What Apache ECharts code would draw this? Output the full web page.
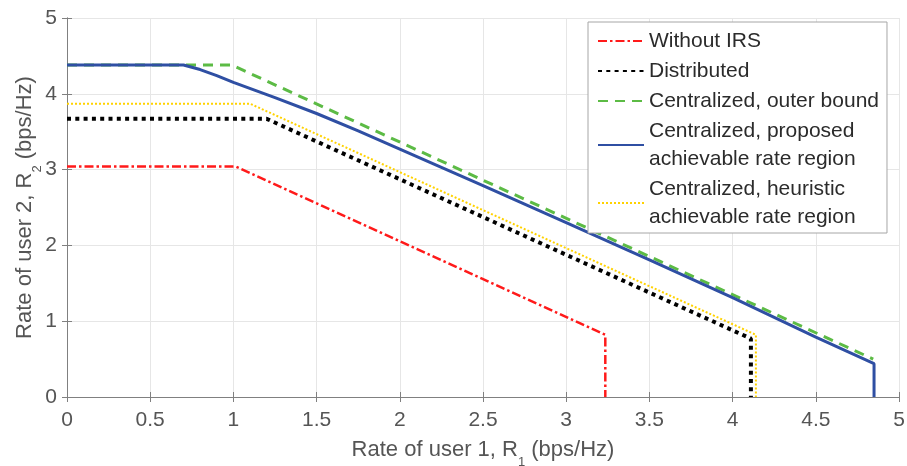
<!DOCTYPE html>
<html>
<head>
<meta charset="utf-8">
<script src="https://cdn.jsdelivr.net/npm/echarts@6/dist/echarts.min.js"></script>
<style>
  html, body { margin: 0; padding: 0; background: #fff; }
  #chart { width: 907px; height: 466px; }
</style>
</head>
<body>
<div id="chart"></div>
<script>
// Two-user rate regions (bps/Hz)
const noIrsR1 = [0, 1.015, 3.235, 3.235];
const noIrsR2 = [3.04, 3.04, 0.82, 0];

const distR1 = [0, 1.20, 4.11, 4.11];
const distR2 = [3.67, 3.67, 0.77, 0];

const outerR1 = [0, 0.99, 4.845];
const outerR2 = [4.38, 4.38, 0.50];

const propR1 = [0, 0.70, 0.80, 0.90, 1.0, 1.25, 1.5, 1.75, 2.0, 2.5, 3.0, 3.5, 4.0, 4.5, 4.85, 4.85];
const propR2 = [4.38, 4.38, 4.32, 4.24, 4.15, 3.95, 3.74, 3.51, 3.27, 2.79, 2.30, 1.81, 1.31, 0.79, 0.44, 0];

const heurR1 = [0, 1.10, 4.14, 4.14];
const heurR2 = [3.87, 3.87, 0.82, 0];

const seriesNames = [
  'Without IRS',
  'Distributed',
  'Centralized, outer bound',
  'Centralized, proposed\nachievable rate region',
  'Centralized, heuristic\nachievable rate region'
];

const xTicks = { min: 0, max: 5, interval: 0.5 };
const yTicks = { min: 0, max: 5, interval: 1 };

function pairs(xs, ys) {
  return xs.map((x, i) => [x, ys[i]]);
}

const font = 'Liberation Sans, Arial, Helvetica, sans-serif';
const axisColor = '#808080';
const textColor = '#555555';

const chart = echarts.init(document.getElementById('chart'), null, { renderer: 'canvas' });

function baseAxis(range, extra) {
  return Object.assign({
    type: 'value',
    min: range.min,
    max: range.max,
    interval: range.interval,
    axisLine: { show: true, lineStyle: { color: axisColor, width: 1 } },
    axisTick: { show: true, inside: true, length: 5, lineStyle: { color: axisColor } },
    splitLine: { show: false },
    axisLabel: { show: false }
  }, extra);
}

const subStyle = { fontFamily: font, fontSize: 13, lineHeight: 13, verticalAlign: 'bottom', color: textColor, padding: [0, 0, -3, 0] };

const option = {
  animation: false,
  backgroundColor: '#ffffff',
  grid: { left: 67, right: 8, top: 18, bottom: 69, containLabel: false, outerBoundsMode: 'none' },
  xAxis: [
    baseAxis(xTicks, {
      position: 'bottom',
      splitLine: { show: true, lineStyle: { color: '#e6e6e6', width: 1 } },
      axisLabel: { show: true, color: textColor, fontFamily: font, fontSize: 21, margin: 13 },
      name: 'Rate of user 1, R{sub|1} (bps/Hz)',
      nameLocation: 'middle',
      nameGap: 37,
      nameMoveOverlap: false,
      nameTextStyle: {
        color: textColor, fontFamily: font, fontSize: 22, lineHeight: 32,
        rich: { sub: subStyle }
      }
    }),
    baseAxis(xTicks, { position: 'top' })
  ],
  yAxis: [
    baseAxis(yTicks, {
      position: 'left',
      splitLine: { show: true, lineStyle: { color: '#e6e6e6', width: 1 } },
      axisLabel: { show: true, color: textColor, fontFamily: font, fontSize: 21, margin: 10 },
      name: 'Rate of user 2, R{sub|2} (bps/Hz)',
      nameLocation: 'middle',
      nameGap: 26,
      nameMoveOverlap: false,
      nameTextStyle: {
        color: textColor, fontFamily: font, fontSize: 22, lineHeight: 32,
        rich: { sub: subStyle }
      }
    }),
    baseAxis(yTicks, { position: 'right' })
  ],
  legend: {
    orient: 'vertical',
    left: 588,
    top: 22,
    padding: [5, 8, 2, 9],
    itemGap: 2,
    itemWidth: 46,
    itemHeight: 14,
    backgroundColor: '#ffffff',
    borderColor: '#a6a6a6',
    borderWidth: 1,
    borderRadius: 0,
    itemStyle: { opacity: 0 },
    textStyle: { color: '#2b2b2b', fontFamily: font, fontSize: 21, lineHeight: 28 },
    data: seriesNames
  },
  series: [
    {
      name: seriesNames[0], type: 'line', showSymbol: false, symbol: 'none',
      data: pairs(noIrsR1, noIrsR2),
      lineStyle: { color: '#ff1a1a', width: 2.5, type: [9, 3, 2.5, 3] },
      itemStyle: { color: '#ff1a1a' }
    },
    {
      name: seriesNames[1], type: 'line', showSymbol: false, symbol: 'none',
      data: pairs(distR1, distR2),
      lineStyle: { color: '#000000', width: 4, type: [4, 4.3] },
      itemStyle: { color: '#000000' }
    },
    {
      name: seriesNames[2], type: 'line', showSymbol: false, symbol: 'none',
      data: pairs(outerR1, outerR2),
      lineStyle: { color: '#5cbb45', width: 3, type: [10, 7] },
      itemStyle: { color: '#5cbb45' }
    },
    {
      name: seriesNames[3], type: 'line', showSymbol: false, symbol: 'none',
      data: pairs(propR1, propR2),
      lineStyle: { color: '#2f4fa3', width: 3, type: 'solid' },
      itemStyle: { color: '#2f4fa3' }
    },
    {
      name: seriesNames[4], type: 'line', showSymbol: false, symbol: 'none',
      data: pairs(heurR1, heurR2),
      lineStyle: { color: '#ffd200', width: 2, type: [2, 2] },
      itemStyle: { color: '#ffd200' }
    }
  ]
};

chart.setOption(option);
</script>
</body>
</html>
